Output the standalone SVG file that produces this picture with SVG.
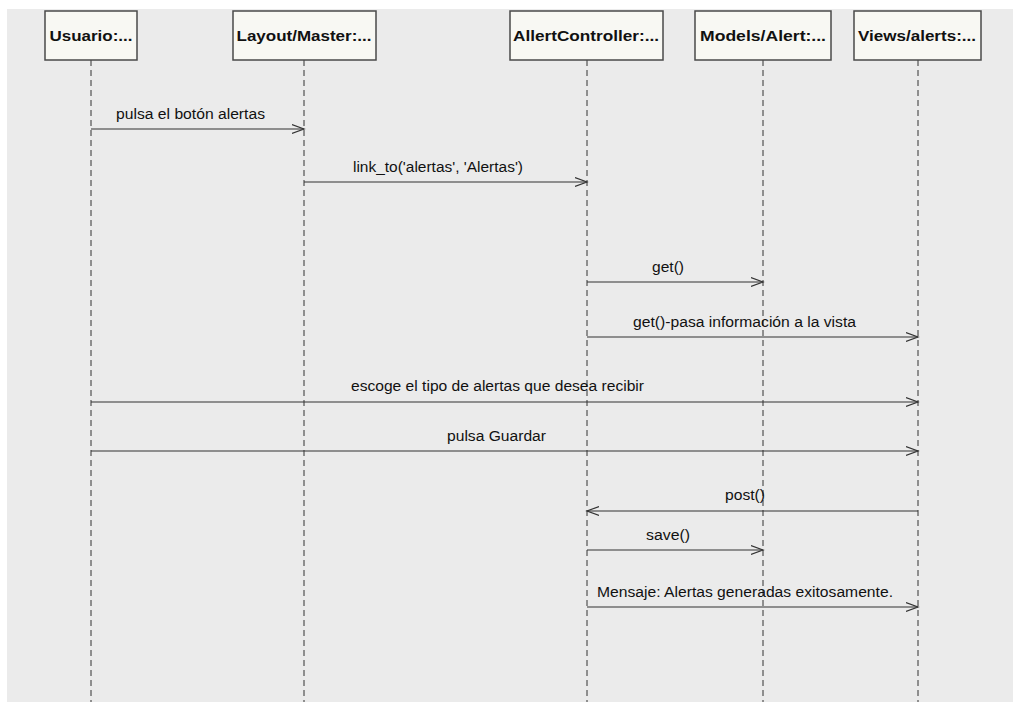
<svg xmlns="http://www.w3.org/2000/svg" width="1013" height="702" viewBox="0 0 1013 702">
<defs>
<style>
.hdr{fill:#f8f8f3;stroke:#4a4a4a;stroke-width:1.5}
.hl{font-family:"Liberation Sans",Arial,sans-serif;font-weight:bold;font-size:15px;fill:#111;text-anchor:middle}
.life{stroke:#333;stroke-width:1;stroke-dasharray:6 4;fill:none}
.msg{stroke:#333;stroke-width:1.2;fill:none}
.ml{font-family:"Liberation Sans",Arial,sans-serif;font-size:14px;fill:#111;text-anchor:middle}
</style>
<marker id="ah" markerWidth="14" markerHeight="12" refX="12" refY="6" orient="auto" markerUnits="userSpaceOnUse">
<path d="M0,1.5 L12,6 L0,10.5" fill="none" stroke="#333" stroke-width="1.2"/>
</marker>
</defs>
<rect x="0" y="0" width="1013" height="702" fill="#ffffff"/>
<rect x="7" y="9" width="1006" height="693" fill="#ebebeb"/>

<g id="usuario">
<line class="life" x1="91" y1="60" x2="91" y2="702"/>
<rect class="hdr" x="45" y="11" width="92" height="49"/>
<text class="hl" x="91" y="40.5" textLength="83" lengthAdjust="spacingAndGlyphs">Usuario:...</text>
</g>
<g id="layout">
<line class="life" x1="304" y1="60" x2="304" y2="702"/>
<rect class="hdr" x="233" y="11" width="143" height="49"/>
<text class="hl" x="304" y="40.5" textLength="135" lengthAdjust="spacingAndGlyphs">Layout/Master:...</text>
</g>
<g id="controller">
<line class="life" x1="587" y1="60" x2="587" y2="702"/>
<rect class="hdr" x="510" y="11" width="153" height="49"/>
<text class="hl" x="586" y="40.5" textLength="146" lengthAdjust="spacingAndGlyphs">AllertController:...</text>
</g>
<g id="models">
<line class="life" x1="763" y1="60" x2="763" y2="702"/>
<rect class="hdr" x="695" y="11" width="136" height="49"/>
<text class="hl" x="763" y="40.5" textLength="126" lengthAdjust="spacingAndGlyphs">Models/Alert:...</text>
</g>
<g id="views">
<line class="life" x1="918" y1="60" x2="918" y2="702"/>
<rect class="hdr" x="854" y="11" width="127" height="49"/>
<text class="hl" x="917" y="40.5" textLength="118" lengthAdjust="spacingAndGlyphs">Views/alerts:...</text>
</g>

<g id="connectors">
<line class="msg" x1="91" y1="129" x2="304" y2="129" marker-end="url(#ah)"/>
<text class="ml" x="190.5" y="119" textLength="149" lengthAdjust="spacingAndGlyphs">pulsa el botón alertas</text>

<line class="msg" x1="304" y1="182" x2="587" y2="182" marker-end="url(#ah)"/>
<text class="ml" x="438" y="172" textLength="170" lengthAdjust="spacingAndGlyphs">link_to('alertas', 'Alertas')</text>

<line class="msg" x1="587" y1="282" x2="763" y2="282" marker-end="url(#ah)"/>
<text class="ml" x="668" y="272" textLength="32" lengthAdjust="spacingAndGlyphs">get()</text>

<line class="msg" x1="587" y1="337" x2="918" y2="337" marker-end="url(#ah)"/>
<text class="ml" x="744.5" y="327" textLength="223" lengthAdjust="spacingAndGlyphs">get()-pasa información a la vista</text>

<line class="msg" x1="91" y1="402" x2="918" y2="402" marker-end="url(#ah)"/>
<text class="ml" x="497.5" y="391" textLength="293" lengthAdjust="spacingAndGlyphs">escoge el tipo de alertas que desea recibir</text>

<line class="msg" x1="91" y1="451" x2="918" y2="451" marker-end="url(#ah)"/>
<text class="ml" x="496.5" y="441" textLength="99" lengthAdjust="spacingAndGlyphs">pulsa Guardar</text>

<line class="msg" x1="918" y1="511" x2="587" y2="511" marker-end="url(#ah)"/>
<text class="ml" x="745" y="500" textLength="40" lengthAdjust="spacingAndGlyphs">post()</text>

<line class="msg" x1="587" y1="550" x2="763" y2="550" marker-end="url(#ah)"/>
<text class="ml" x="668" y="540" textLength="44" lengthAdjust="spacingAndGlyphs">save()</text>

<line class="msg" x1="587" y1="607" x2="918" y2="607" marker-end="url(#ah)"/>
<text class="ml" x="745" y="597" textLength="296" lengthAdjust="spacingAndGlyphs">Mensaje: Alertas generadas exitosamente.</text>
</g>
</svg>
